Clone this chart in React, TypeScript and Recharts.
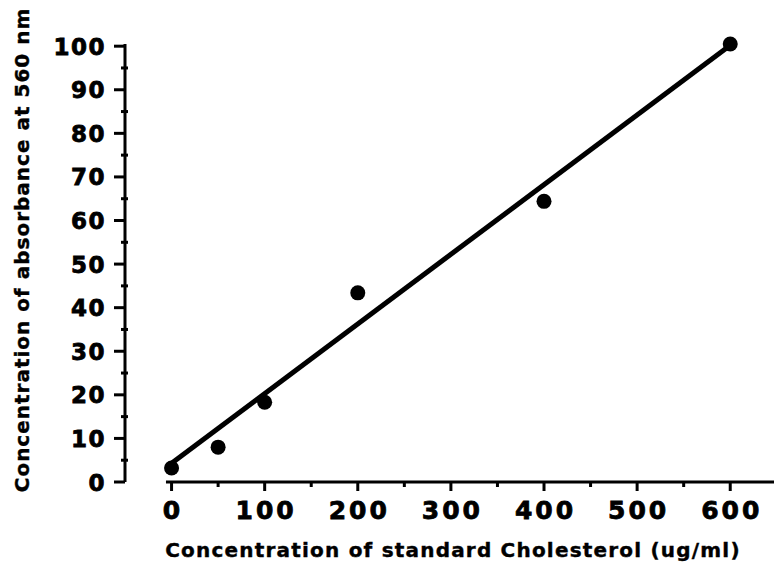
import { ComposedChart, XAxis, YAxis, Scatter, Line, ReferenceLine, Label } from 'recharts';

// standard curve readings
const concentration = [0, 50, 100, 200, 400, 600];
const absorbance = [3.2, 8.0, 18.3, 43.4, 64.4, 100.5];

// fitted line end points
const fitX = [0, 600];
const fitY = [4.3, 100.2];

const xTicks = [0, 50, 100, 150, 200, 250, 300, 350, 400, 450, 500, 550, 600];
const yTicks = [0, 5, 10, 15, 20, 25, 30, 35, 40, 45, 50, 55, 60, 65, 70, 75, 80, 85, 90, 95, 100];

const xTitle = 'Concentration of standard Cholesterol (ug/ml)';
const yTitle = 'Concentration of absorbance at 560 nm';

const FONT = '"DejaVu Sans", Verdana, sans-serif';

const points = concentration.map((x, i) => ({ x, y: absorbance[i] }));
const fit = fitX.map((x, i) => ({ x, y: fitY[i] }));

const XTick = ({ x, y, payload }: any) => {
  const major = payload.value % 100 === 0;
  return (
    <g>
      <line x1={x} x2={x} y1={y - 1} y2={y + (major ? 9 : 5)} stroke="#000" strokeWidth={3} />
      {major && (
        <text
          x={x + 1.5}
          y={y + 37}
          textAnchor="middle"
          fontFamily={FONT}
          fontWeight="bold"
          fontSize={25}
          letterSpacing={3}
          stroke="#000"
          strokeWidth={0.8}
          fill="#000"
        >
          {payload.value}
        </text>
      )}
    </g>
  );
};

const YTick = ({ x, y, payload }: any) => {
  const major = payload.value % 10 === 0;
  return (
    <g>
      <line x1={major ? x - 11 : x - 4} x2={x + (major ? 0 : 3)} y1={y} y2={y} stroke="#000" strokeWidth={3} />
      {major && (
        <text
          x={x - 19}
          y={y + 8.5}
          textAnchor="end"
          fontFamily={FONT}
          fontWeight="bold"
          fontSize={23}
          letterSpacing={1.5}
          stroke="#000"
          strokeWidth={0.8}
          fill="#000"
        >
          {payload.value}
        </text>
      )}
    </g>
  );
};

const Dot = (props: any) => <circle cx={props.cx} cy={props.cy} r={7.5} fill="#000" />;

export default function App() {
  return (
    <div style={{ position: 'absolute', left: 0, top: 0, width: 774, height: 562, background: '#fff' }}>
      <ComposedChart width={774} height={562} margin={{ top: 44, right: 0, bottom: 0, left: 0 }}>
        <XAxis
          type="number"
          dataKey="x"
          domain={[-50, 647]}
          allowDataOverflow
          ticks={xTicks}
          interval={0}
          height={80}
          axisLine={false}
          tickLine={false}
          tickSize={0}
          tickMargin={0}
          tick={<XTick />}
        >
          <Label
            content={() => (
              <text
                x={453}
                y={557}
                textAnchor="middle"
                fontFamily={FONT}
                fontWeight="bold"
                fontSize={20}
                letterSpacing={1.2}
                stroke="#000"
                strokeWidth={0.4}
                fill="#000"
              >
                {xTitle}
              </text>
            )}
          />
        </XAxis>
        <YAxis
          type="number"
          domain={[0, 100]}
          ticks={yTicks}
          interval={0}
          width={125}
          axisLine={{ stroke: '#000', strokeWidth: 3 }}
          tickLine={false}
          tickSize={0}
          tickMargin={0}
          tick={<YTick />}
        >
          <Label
            content={() => (
              <text
                x={22}
                y={250}
                transform="rotate(-90 22 250)"
                textAnchor="middle"
                dominantBaseline="central"
                fontFamily={FONT}
                fontWeight="bold"
                fontSize={20}
                letterSpacing={1}
                stroke="#000"
                strokeWidth={0.4}
                fill="#000"
              >
                {yTitle}
              </text>
            )}
          />
        </YAxis>
        <ReferenceLine
          segment={[{ x: -6, y: 0 }, { x: 647, y: 0 }]}
          stroke="#000"
          strokeWidth={3}
          ifOverflow="visible"
        />
        <Line data={fit} dataKey="y" type="linear" stroke="#000" strokeWidth={5} dot={false} isAnimationActive={false} />
        <Scatter data={points} dataKey="y" fill="#000" shape={<Dot />} isAnimationActive={false} />
      </ComposedChart>
    </div>
  );
}
